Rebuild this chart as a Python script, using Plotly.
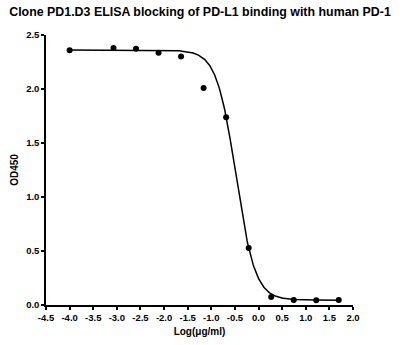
import numpy as np
import plotly.graph_objects as go

# Data
log_conc = [-4.0, -3.071, -2.594, -2.117, -1.640, -1.163, -0.686, -0.209, 0.268, 0.745, 1.222, 1.699]
od450 = [2.358, 2.38, 2.373, 2.336, 2.30, 2.009, 1.738, 0.528, 0.074, 0.046, 0.045, 0.046]

# 4-parameter logistic fit parameters
fit_top = 2.36
fit_bottom = 0.045
fit_log_ic50 = -0.48
fit_hill = 2.13

x_ticks = [-4.5, -4.0, -3.5, -3.0, -2.5, -2.0, -1.5, -1.0, -0.5, 0.0, 0.5, 1.0, 1.5, 2.0]
y_ticks = [0.0, 0.5, 1.0, 1.5, 2.0, 2.5]

xf = np.linspace(min(log_conc), max(log_conc), 400)
yf = fit_bottom + (fit_top - fit_bottom) / (1 + 10 ** ((xf - fit_log_ic50) * fit_hill))

font = "Liberation Sans, Arial, sans-serif"
fig = go.Figure()
fig.add_trace(go.Scatter(x=xf, y=yf, mode="lines", line=dict(color="black", width=1.5),
                         hoverinfo="skip", showlegend=False))
fig.add_trace(go.Scatter(x=log_conc, y=od450, mode="markers",
                         marker=dict(color="black", size=6), showlegend=False))

fig.update_layout(
    width=400, height=345,
    margin=dict(l=46, r=47, t=35, b=40),
    paper_bgcolor="white", plot_bgcolor="white",
    title=dict(text="<b>Clone PD1.D3 ELISA blocking of PD-L1 binding with human PD-1</b>",
               x=0.5, xanchor="center", y=0.965, yanchor="middle",
               font=dict(family=font, size=12.4, color="black")),
    font=dict(family=font, color="black"),
)
fig.update_xaxes(range=[-4.5, 2.0], tickvals=x_ticks, automargin=False,
                 ticktext=["<b>%.1f</b>" % v for v in x_ticks],
                 showgrid=False, zeroline=False, showline=True, linecolor="black", linewidth=1.5,
                 ticks="outside", ticklen=3, tickwidth=1.5, tickcolor="black",
                 tickfont=dict(size=9.5, family=font),
                 title=dict(text="<b>Log(μg/ml)</b>", font=dict(size=10, family=font), standoff=6))
fig.update_yaxes(range=[0, 2.5], tickvals=y_ticks, automargin=False,
                 ticktext=["<b>%.1f</b>" % v for v in y_ticks],
                 showgrid=False, zeroline=False, showline=True, linecolor="black", linewidth=1.5,
                 ticks="outside", ticklen=3, tickwidth=1.5, tickcolor="black",
                 tickfont=dict(size=9.5, family=font),
                 title=dict(text="<b>OD450</b>", font=dict(size=10, family=font), standoff=6))

fig.write_html("out.html")
